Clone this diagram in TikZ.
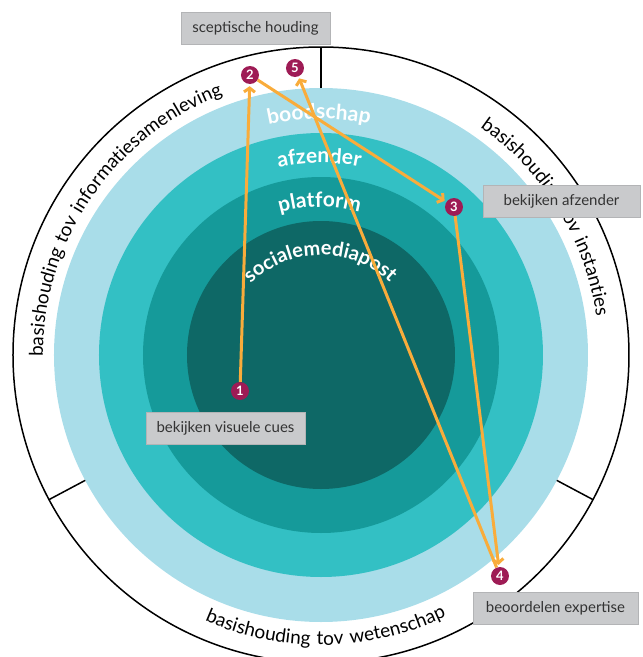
\documentclass[tikz,border=0pt]{standalone}
\usepackage{fontspec}
\setmainfont{Lato}
\newfontfamily\ringfont[LetterSpace=8]{Lato}
\newfontfamily\layerfont{Lato}
\usetikzlibrary{arrows.meta,decorations.text}

\definecolor{ringlight}{HTML}{A9DDE9}
\definecolor{ringteal}{HTML}{33C0C4}
\definecolor{ringdark}{HTML}{159A9A}
\definecolor{ringdeep}{HTML}{0E6866}
\definecolor{markred}{HTML}{9E1B55}
\definecolor{floworange}{HTML}{F9AC3B}
\definecolor{boxgray}{HTML}{C9CACC}
\definecolor{boxline}{HTML}{B3B4B6}
\definecolor{boxtext}{HTML}{333333}

\begin{document}
\begin{tikzpicture}[x=1pt, y=1pt,
  stepnum/.style={circle, fill=markred, text=white, inner sep=0pt, minimum size=18pt,
    font=\bfseries\fontsize{13}{13}\selectfont},
  actbox/.style={draw=boxline, fill=boxgray, text=boxtext, inner sep=0pt, minimum height=32pt,
    font=\fontsize{15}{16}\selectfont},
  flow/.style={draw=floworange, line width=3pt, shorten >=2pt,
    -{Straight Barb[length=4pt, width=11pt]}},
  ringtext/.style={decorate, decoration={text along path, text align=center, text={#1}}}]
  \useasboundingbox (-321,-302) rectangle (322,355);

  % layers of the post, outside in
  \fill[ringlight] (0,0) circle (267);
  \fill[ringteal] (0,0) circle (222);
  \fill[ringdark] (0,0) circle (178);
  \fill[ringdeep] (0,0) circle (134);

  % outer ring and its three parts
  \draw[line width=1.5pt] (0,0) circle (308);
  \foreach \a in {90,208,332}
    \draw[line width=1.5pt] (\a:267) -- (\a:308);

  % texts along the outer ring
  \path[ringtext={|\ringfont\fontsize{19}{19}\selectfont|basishouding tov informatiesamenleving}]
    (196:278) arc[start angle=196, end angle=95, radius=278];
  \path[ringtext={|\ringfont\fontsize{19}{19}\selectfont|basishouding tov instanties}]
    (81.5:278) arc[start angle=81.5, end angle=-18.5, radius=278];
  \path[ringtext={|\ringfont\fontsize{19}{19}\selectfont|basishouding tov wetenschap}]
    (221:290) arc[start angle=221, end angle=321, radius=290];

  % layer names
  \path[ringtext={|\color{white}\layerfont\bfseries\fontsize{21}{21}\selectfont|boodschap}]
    (150:236) arc[start angle=150, end angle=31, radius=236];
  \path[ringtext={|\color{white}\layerfont\bfseries\fontsize{21}{21}\selectfont|afzender}]
    (150:192) arc[start angle=150, end angle=31, radius=192];
  \path[ringtext={|\color{white}\layerfont\bfseries\fontsize{21}{21}\selectfont|platform}]
    (150:148) arc[start angle=150, end angle=31, radius=148];
  \path[ringtext={|\color{white}\layerfont\bfseries\fontsize{20}{20}\selectfont|socialemediapost}]
    (170:100) arc[start angle=170, end angle=11, radius=100];

  % steps
  \node[stepnum] (s1) at (-81,-36) {1};
  \node[stepnum] (s2) at (-71,280) {2};
  \node[stepnum] (s3) at (133,148) {3};
  \node[stepnum] (s4) at (179,-221) {4};
  \node[stepnum] (s5) at (-26,287) {5};

  \draw[flow] (s1) -- (s2);
  \draw[flow] (s2) -- (s3);
  \draw[flow] (s3) -- (s4);
  \draw[flow] (s4) -- (s5);

  % labels of the steps
  \node[actbox, minimum width=149pt] (sceptic) at (-65.5,327) {sceptische houding};
  \node[actbox, minimum width=157pt] (sender) at (240.5,154) {bekijken afzender};
  \node[actbox, minimum width=159pt] (visual) at (-95.5,-73) {bekijken visuele cues};
  \node[actbox, minimum width=165pt] (expert) at (234.5,-253) {beoordelen expertise};
\end{tikzpicture}
\end{document}
